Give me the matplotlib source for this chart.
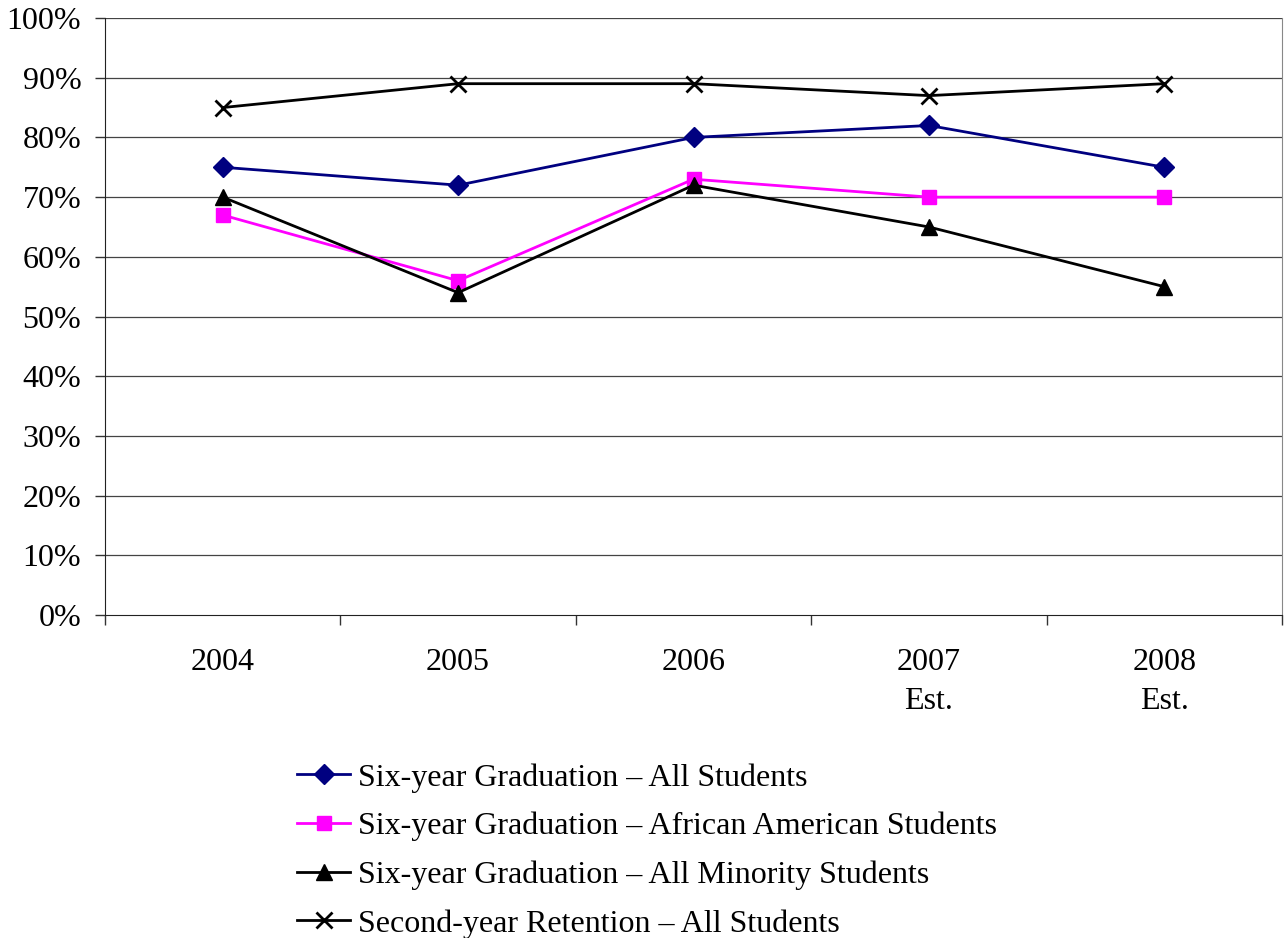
import numpy as np
import matplotlib.pyplot as plt

plt.rcParams['font.family'] = ['Liberation Serif', 'DejaVu Serif']

# data (percent)
years = ["2004", "2005", "2006", "2007\nEst.", "2008\nEst."]
grad_all = [75, 72, 80, 82, 75]
grad_african_american = [67, 56, 73, 70, 70]
grad_minority = [70, 54, 72, 65, 55]
retention_all = [85, 89, 89, 87, 89]
y_ticks = [0, 10, 20, 30, 40, 50, 60, 70, 80, 90, 100]

fig = plt.figure(figsize=(12.85, 9.38), dpi=100)
ax = fig.add_axes([0.0817, 0.3443, 0.916, 0.6365])

x = np.arange(len(years))
ax.plot(x, grad_all, color="#000080", lw=2, marker="D", ms=10,
        label="Six-year Graduation \u2013 All Students")
ax.plot(x, grad_african_american, color="#ff00ff", lw=2, marker="s", ms=10.5,
        label="Six-year Graduation \u2013 African American Students")
ax.plot(x, grad_minority, color="black", lw=2, marker="^", ms=11,
        label="Six-year Graduation \u2013 All Minority Students")
ax.plot(x, retention_all, color="black", lw=2, marker="x", ms=11, mew=2,
        label="Second-year Retention \u2013 All Students")

ax.set_xlim(-0.5, len(years) - 0.5)
ax.set_ylim(0, 100)

# gridlines
ax.set_yticks(y_ticks)
ax.set_yticklabels([f"{v}%" for v in y_ticks], fontsize=23)
for v in y_ticks[1:]:
    ax.axhline(v, color="#444444", lw=0.9, zorder=0)

# category ticks between, labels centered
ax.set_xticks(np.arange(-0.5, len(years), 1.0))
ax.set_xticklabels([])
ax.set_xticks(x, minor=True)
ax.set_xticklabels(years, minor=True, fontsize=23, linespacing=1.45)
ax.tick_params(axis="x", which="major", direction="out", length=7, width=1, color="#333333")
ax.tick_params(axis="x", which="minor", length=0, pad=24)
ax.tick_params(axis="y", direction="out", length=7, width=1, color="#333333", pad=10)

ax.spines["top"].set_visible(False)
ax.spines["right"].set_color("#888888")
ax.spines["left"].set_color("#222222")
ax.spines["bottom"].set_color("#222222")

fig.legend(loc="upper left", bbox_to_anchor=(0.2215, 0.2), frameon=False,
           fontsize=23, handlelength=1.65, handletextpad=0.25, labelspacing=0.6,
           borderaxespad=0)

fig.savefig("out.png", dpi=100)
